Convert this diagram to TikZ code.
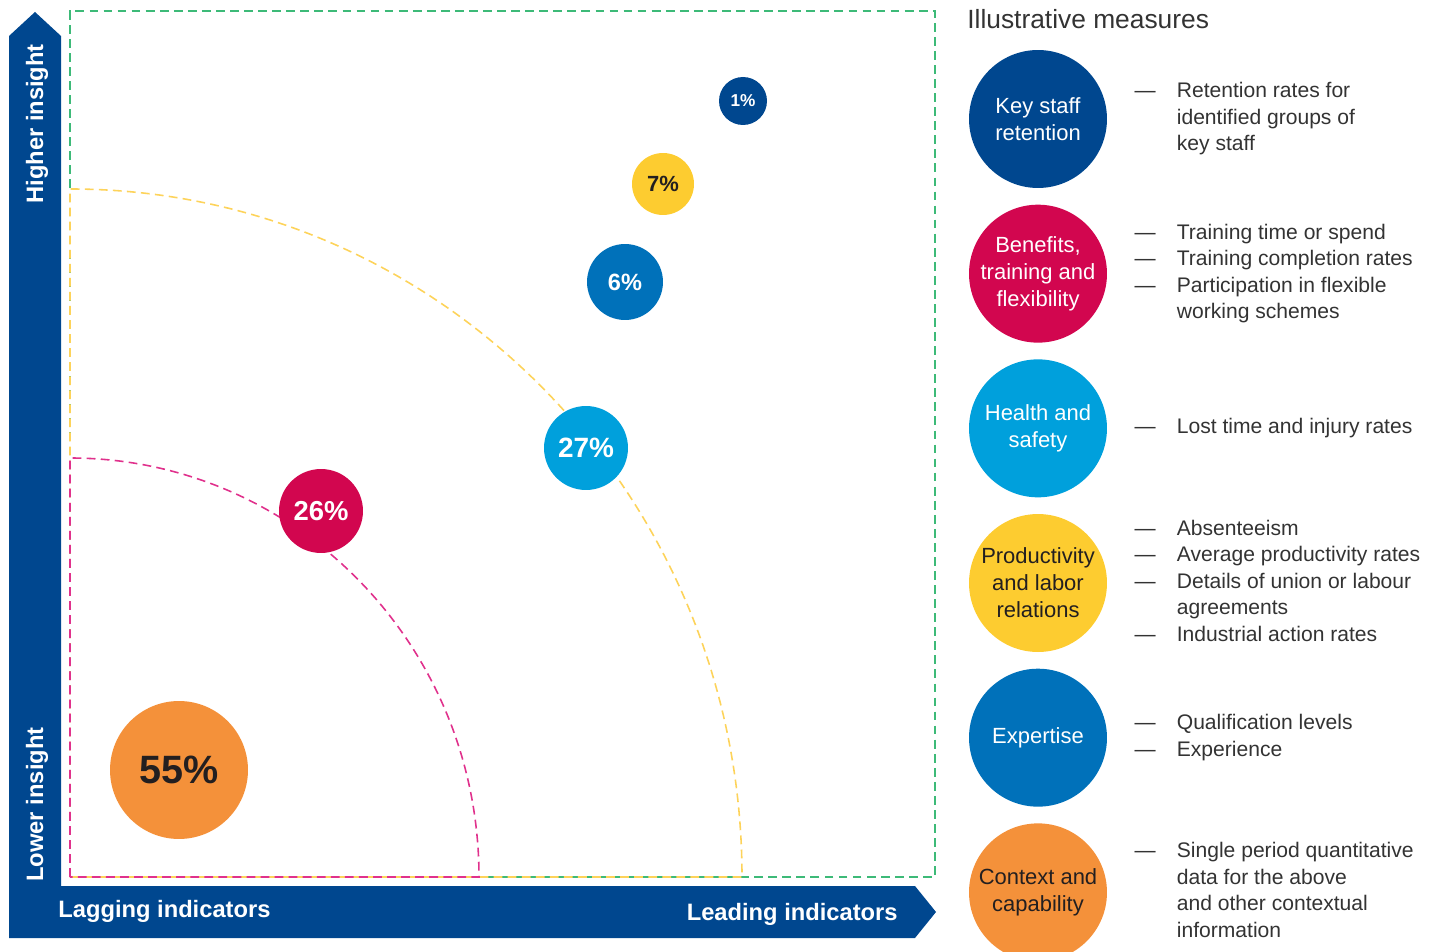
\documentclass[tikz,border=0pt]{standalone}
\usepackage{fontspec}
\setmainfont{Liberation Sans}
\usetikzlibrary{positioning}
\definecolor{kpmgnavy}{HTML}{00478F}
\definecolor{kpmgblue}{HTML}{0071BA}
\definecolor{kpmglight}{HTML}{00A0DC}
\definecolor{kpmgmagenta}{HTML}{D2064F}
\definecolor{kpmgyellow}{HTML}{FDCC30}
\definecolor{kpmgorange}{HTML}{F4913A}
\definecolor{zonegreen}{HTML}{3DBA78}
\definecolor{zoneyellow}{HTML}{FDD35A}
\definecolor{zonemagenta}{HTML}{E0318C}
\definecolor{darktext}{HTML}{231F20}
\definecolor{textgray}{HTML}{333333}
\newcommand{\measures}[1]{\begin{tabular}{@{}l@{\hspace{12pt}}l@{}}#1\end{tabular}}
\tikzset{
  bubble/.style={circle, fill=#1, inner sep=0pt, text=white},
  measure circle/.style={circle, fill=#1, minimum size=2.76cm, inner sep=0pt, align=center,
    text=white, font=\fontsize{12.5}{15.3}\selectfont},
  measure list/.style={anchor=west, inner sep=0pt, text=textgray, font=\fontsize{12}{15.1}\selectfont},
  axis label/.style={text=white, inner sep=0pt, font=\fontsize{13.5}{16}\selectfont\bfseries},
  zone/.style={draw=#1, line width=0.9pt, dash pattern=on 5pt off 3pt},
}

\begin{document}
\begin{tikzpicture}[x=0.02cm, y=0.02cm]
	\useasboundingbox (0,0) rectangle (1431,951);
	% Axes
	\fill[kpmgnavy] (9,13) -- (9,915) -- (35,939) -- (61,915) -- (61,65) -- (915,65) -- (936,39) -- (915,13) -- cycle;
	\node[axis label, rotate=90, anchor=base west] (higher) at (43,747) {Higher insight};
	\node[axis label, rotate=90, anchor=base west] (lower) at (43,69) {Lower insight};
	\node[axis label, anchor=base west] (lagging) at (58,34) {Lagging indicators};
	\node[axis label, anchor=base east] (leading) at (898,31) {Leading indicators};
	% Zones
	\draw[zone=zonegreen] (70,74) rectangle (935,940);
	\draw[zone=zoneyellow] (70,74) -- (70,762) arc[start angle=90, end angle=0, x radius=672, y radius=688] -- cycle;
	\draw[zone=zonemagenta] (70,74) -- (70,493) arc[start angle=90, end angle=0, x radius=409, y radius=419] -- cycle;
	% Bubbles
	\node[bubble=kpmgorange, minimum size=2.76cm, text=darktext, font=\fontsize{22.5}{24}\selectfont\bfseries] (p55) at (179,181) {55\%};
	\node[bubble=kpmgmagenta, minimum size=1.68cm, font=\fontsize{15.6}{17}\selectfont\bfseries] (p26) at (321,440) {26\%};
	\node[bubble=kpmglight, minimum size=1.68cm, font=\fontsize{15.9}{17}\selectfont\bfseries] (p27) at (586,503) {27\%};
	\node[bubble=kpmgblue, minimum size=1.52cm, font=\fontsize{13.4}{15}\selectfont\bfseries] (p6) at (625,669) {6\%};
	\node[bubble=kpmgyellow, minimum size=1.24cm, text=darktext, font=\fontsize{12.5}{14}\selectfont\bfseries] (p7) at (663,767) {7\%};
	\node[bubble=kpmgnavy, minimum size=0.96cm, font=\fontsize{9.8}{11}\selectfont\bfseries] (p1) at (743,850) {1\%};
	% Legend
	\node[anchor=base west, inner sep=0pt, text=textgray, font=\fontsize{15}{18}\selectfont] (title) at (967,922) {Illustrative measures};
	\node[measure circle=kpmgnavy] (key) at (1038,832) {Key staff\\retention};
	\node[measure circle=kpmgmagenta, below=0.32cm of key] (benefits) {Benefits,\\training and\\flexibility};
	\node[measure circle=kpmglight, below=0.32cm of benefits] (health) {Health and\\safety};
	\node[measure circle=kpmgyellow, text=darktext, below=0.32cm of health] (productivity) {Productivity\\and labor\\relations};
	\node[measure circle=kpmgblue, below=0.32cm of productivity] (expertise) {Expertise};
	\node[measure circle=kpmgorange, text=darktext, below=0.32cm of expertise] (context) {Context and\\capability};
	\node[measure list, right=0.54cm of key] (keylist) {\measures{--- & Retention rates for\\ & identified groups of\\ & key staff}};
	\node[measure list, right=0.54cm of benefits] (benefitslist) {\measures{--- & Training time or spend\\--- & Training completion rates\\--- & Participation in flexible\\ & working schemes}};
	\node[measure list, right=0.54cm of health] (healthlist) {\measures{--- & Lost time and injury rates}};
	\node[measure list, right=0.54cm of productivity] (productivitylist) {\measures{--- & Absenteeism\\--- & Average productivity rates\\--- & Details of union or labour\\ & agreements\\--- & Industrial action rates}};
	\node[measure list, right=0.54cm of expertise] (expertiselist) {\measures{--- & Qualification levels\\--- & Experience}};
	\node[measure list, right=0.54cm of context] (contextlist) {\measures{--- & Single period quantitative\\ & data for the above\\ & and other contextual\\ & information}};
\end{tikzpicture}
\end{document}
